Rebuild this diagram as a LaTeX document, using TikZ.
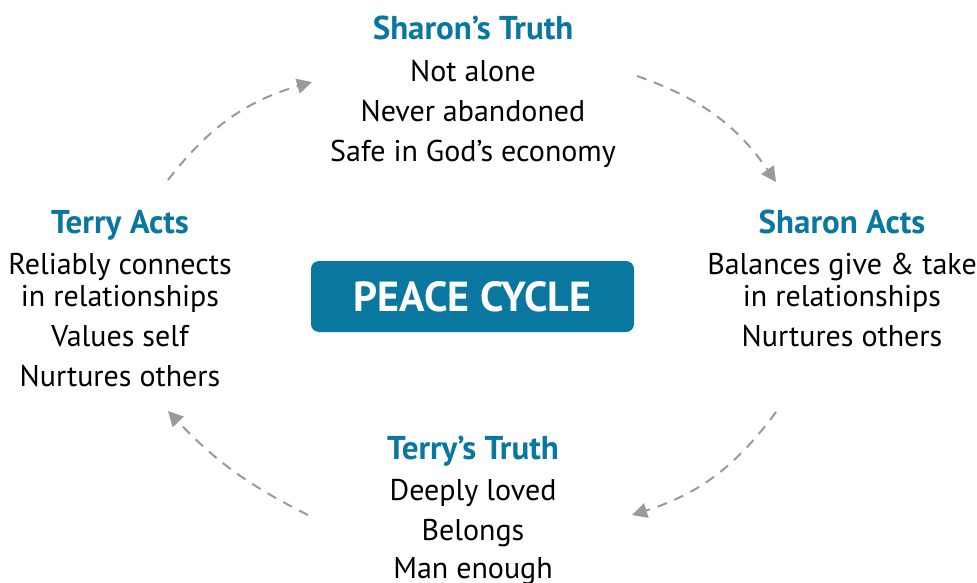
\documentclass[tikz,border=0pt]{standalone}
\usepackage{fontspec}
\setmainfont{PT Sans}
\usetikzlibrary{arrows.meta, positioning}
\definecolor{peaceblue}{HTML}{0A77A0}
\definecolor{arrowgray}{HTML}{9A9A9A}
\tikzset{
  heading/.style={anchor=base, text=peaceblue, font=\fontsize{33}{40}\selectfont\bfseries},
  itemtext/.style={anchor=base, align=center, font=\fontsize{30}{40}\selectfont},
  cyclebox/.style={fill=peaceblue, rounded corners=8pt, text=white, minimum width=323pt, minimum height=71pt, font=\fontsize{42}{40}\selectfont\bfseries},
  cyclearrow/.style={arrowgray, line width=2pt, dash pattern=on 10pt off 8pt, -{Triangle[length=15pt, width=15pt]}}
}
\begin{document}
\begin{tikzpicture}[x=1pt, y=-1pt]
    \useasboundingbox (0,0) rectangle (977,583);
    % Mitte
    \node[cyclebox] (cycle) at (472.5,296.5) {PEACE CYCLE};
    % Oben
    \node[heading] (sharontruth) at (473,40) {Sharon’s Truth};
    \node[itemtext] (sharontruthtext) at (473,161) {Not alone\\Never abandoned\\Safe in God’s economy};
    % Rechts
    \node[heading] (sharonacts) at (842,233) {Sharon Acts};
    \node[itemtext] (sharonactstext) at (842,346) {Balances give \& take\\[-8pt]in relationships\\Nurtures others};
    % Unten
    \node[heading] (terrytruth) at (473,459) {Terry’s Truth};
    \node[itemtext] (terrytruthtext) at (473,578) {Deeply loved\\Belongs\\[-2pt]Man enough};
    % Links
    \node[heading] (terryacts) at (120,233) {Terry Acts};
    \node[itemtext] (terryactstext) at (120,386) {Reliably connects\\[-8pt]in relationships\\Values self\\Nurtures others};
    % Pfeile
    \coordinate (a1) at (168,180);
    \coordinate (a2) at (312,82);
    \coordinate (b1) at (637,76);
    \coordinate (b2) at (776,182);
    \coordinate (c1) at (776,412);
    \coordinate (c2) at (632,515);
    \coordinate (d1) at (308,515);
    \coordinate (d2) at (168,411);
    \draw[cyclearrow] (a1) to[bend left=18] (a2);
    \draw[cyclearrow] (b1) to[bend left=18] (b2);
    \draw[cyclearrow] (c1) to[bend left=18] (c2);
    \draw[cyclearrow] (d1) to[bend left=10] (d2);
\end{tikzpicture}
\end{document}
